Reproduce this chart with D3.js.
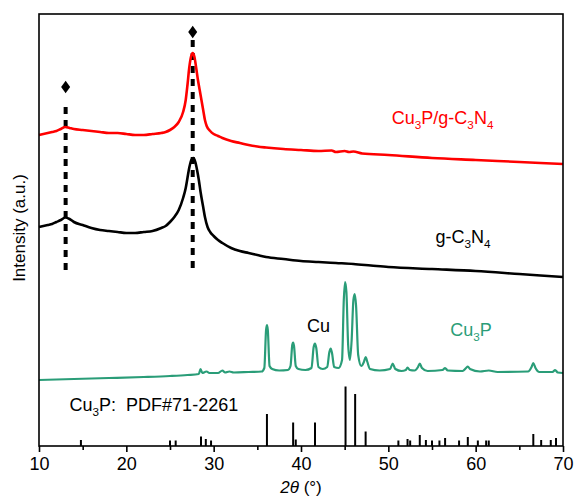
<!DOCTYPE html>
<html><head><meta charset="utf-8">
<script src="https://cdn.jsdelivr.net/npm/d3@7"></script>
<style>
html,body{margin:0;padding:0;background:#fff;}
svg{display:block;font-family:"Liberation Sans",Arial,sans-serif;}
</style></head>
<body><svg id="chart" width="574" height="499"></svg>
<script>
// ---- data (2θ in degrees, intensity in a.u.) ----
const xTicks = [10, 20, 30, 40, 50, 60, 70];
const xMinorTicks = [15, 25, 35, 45, 55, 65];

const compositeTheta = [10,10.5,11,11.5,12,12.5,13,13.5,14,15,16,17,18,19,20,21,22,23,24,24.5,25,25.5,26,26.5,26.8,27,27.2,27.4,27.6,27.8,28,28.2,28.4,28.6,28.8,29,29.2,29.6,30,30.5,31,32,33,34,35,36,38,40,42,43.5,44,45,45.5,46,47,50,55,60,65,70];
const compositeI = [311,312,313,314,315,317,319,318,317,316,315,314,313,313,312,311,311,312,313,314,316,319,324,334,346,361,378,389,393,389,378,366,356,346,336,326,320,315,312,310,308,305,303,301,299.5,298.5,297,296,295,295.5,294,295,294,294.5,292.5,291,288,286,284,282];

const gcnTheta = [10,10.5,11,11.5,12,12.5,13,13.5,14,15,16,17,18,19,20,21,22,23,24,24.5,25,25.5,26,26.5,26.8,27,27.2,27.5,27.7,27.9,28.1,28.3,28.5,28.8,29,29.3,29.6,30,30.5,31,32,33,34,35,36,38,40,42,44,46,48,50,55,60,65,70];
const gcnI = [219,220,221,222,224,226,228.5,227,224,221,218,216,215,214,213,213,214,215,218,220,224,229,236,248,258,268,278,287,288,284,276,266,254,239,229,219,214,210,206,203,198,195,193,191,189,187,185,184,183,182,180.5,179,177,175,172,169];

const cu3pTheta = [10,14,18,22,25,27,28.3,28.5,28.7,29,29.2,29.5,30.5,31,31.3,31.8,32.3,34,35.5,35.8,36,36.1,36.2,36.4,36.7,37.5,38.5,38.8,39,39.1,39.2,39.4,39.7,40.5,41.2,41.45,41.6,41.75,42,42.5,43,43.25,43.4,43.55,43.8,44.3,44.7,44.9,45.05,45.2,45.4,45.6,45.8,46,46.15,46.3,46.55,46.9,47.2,47.4,47.6,47.9,49,50.2,50.5,50.8,51.5,52,52.2,52.45,53,53.4,53.6,53.85,54.5,56.2,56.5,56.8,58.5,58.9,59.1,59.35,60.5,61.5,62.5,66,66.4,66.6,66.85,67.3,68.8,69.1,69.4,70];
const cu3pI = [66,67,68,69,70,71,72,77,73,74,74.5,73,73,75.5,73.5,74.5,73.5,74,74.5,78,116,121,116,80,77,75.5,76,80,101,103.5,100,80,77,76,78,99,102.5,98,79,77,79,94,97.5,93,79,78,86,146,164,154,101,86,106,146,152,141,91,80,84,89,84,77,75.5,77,82.5,77,75,76,78.5,76,75.5,79,82.5,78,75,76,78,75.5,75,78,79.5,77,74.5,75.5,74,74.5,79,83,78,74,74,76,73.5,73];

// reference pattern Cu3P PDF#71-2261: [2θ, relative height]
const pdfTheta = [14.8,25.0,25.65,28.55,29.1,29.7,36.1,39.1,39.4,41.6,45.1,46.2,47.4,51.15,52.2,52.5,53.6,54.3,55.0,55.85,56.5,58.1,59.1,60.25,61.2,61.5,66.6,67.5,68.6,69.2];
const pdfI = [6,5.5,5.5,9.5,7,5.5,32,23.5,6.5,23.5,59.5,52,14.5,5.5,7,5.5,11,6,5.5,5.5,8,5.5,9,5.5,5.5,5.5,12,6,6,8];

// marked g-C3N4 reflections (diamonds)
const markTheta = [13.05, 27.6];
const markTop = [359, 414];
const markDashTop = [339, 406];
const markDashBottom = 173;

// ---- layout ----
const svg = d3.select("#chart");
const mLeft = 39, mRight = 563, mTop = 14, mBottom = 446;
const x = d3.scaleLinear().domain([10, 70]).range([mLeft, mRight]);
const y = d3.scaleLinear().domain([0, 432]).range([mBottom, mTop]);

const zip = (a, b) => a.map((v, i) => [v, b[i]]);
const line = d3.line().x(d => x(d[0])).y(d => y(d[1])).curve(d3.curveMonotoneX);

// dashed marker lines
markTheta.forEach((t, i) => {
  svg.append("line")
    .attr("x1", x(t)).attr("x2", x(t))
    .attr("y1", y(markDashTop[i])).attr("y2", y(markDashBottom))
    .attr("stroke", "#000").attr("stroke-width", 4)
    .attr("stroke-dasharray", "7,6");
  svg.append("path")
    .attr("d", d3.symbol().type(d3.symbolDiamond).size(45)())
    .attr("transform", `translate(${x(t)},${y(markTop[i])}) scale(1.25,1)`)
    .attr("fill", "#000");
});

// curves
svg.append("path").datum(zip(compositeTheta, compositeI))
  .attr("d", line).attr("fill", "none").attr("stroke", "#ff0000").attr("stroke-width", 2.6);
svg.append("path").datum(zip(gcnTheta, gcnI))
  .attr("d", line).attr("fill", "none").attr("stroke", "#000").attr("stroke-width", 2.6);
svg.append("path").datum(zip(cu3pTheta, cu3pI))
  .attr("d", line).attr("fill", "none").attr("stroke", "#2a9d78").attr("stroke-width", 2.2);

// PDF sticks
svg.append("g").selectAll("line").data(zip(pdfTheta, pdfI)).join("line")
  .attr("x1", d => x(d[0])).attr("x2", d => x(d[0]))
  .attr("y1", y(0)).attr("y2", d => y(d[1]))
  .attr("stroke", "#000").attr("stroke-width", 2);

// frame
svg.append("rect").attr("x", mLeft).attr("y", mTop)
  .attr("width", mRight - mLeft).attr("height", mBottom - mTop)
  .attr("fill", "none").attr("stroke", "#000").attr("stroke-width", 1.6);

// x axis
const ax = svg.append("g").attr("transform", `translate(0,${mBottom})`)
  .call(d3.axisBottom(x).tickValues(xTicks).tickSize(6).tickPadding(5).tickFormat(d3.format("d")));
ax.select(".domain").remove();
ax.selectAll("line").attr("stroke-width", 1.6);
ax.selectAll("text").attr("font-size", 18).attr("font-family", "Liberation Sans, Arial, sans-serif").attr("fill", "#000");
const axm = svg.append("g").attr("transform", `translate(0,${mBottom})`)
  .call(d3.axisBottom(x).tickValues(xMinorTicks).tickSize(4).tickFormat(""));
axm.select(".domain").remove();
axm.selectAll("line").attr("stroke-width", 1.6);

// axis titles
const xt = svg.append("text").attr("x", (mLeft + mRight) / 2).attr("y", 493)
  .attr("text-anchor", "middle").attr("font-size", 17);
xt.append("tspan").attr("font-style", "italic").text("2θ");
xt.append("tspan").text(" (°)");

svg.append("text").attr("transform", `translate(25,228) rotate(-90)`)
  .attr("text-anchor", "middle").attr("font-size", 17).text("Intensity (a.u.)");

// labels with subscripts
function label(parts, tx, ty, color, size) {
  const t = svg.append("text").attr("x", tx).attr("y", ty).attr("fill", color).attr("font-size", size);
  let shifted = false;
  parts.forEach(p => {
    const s = t.append("tspan").text(p.t);
    if (p.sub) {
      s.attr("font-size", size * 0.65).attr("dy", size * 0.3);
      shifted = true;
    } else if (shifted) {
      s.attr("dy", -size * 0.3);
      shifted = false;
    }
  });
  return t;
}
label([{t:"Cu"},{t:"3",sub:1},{t:"P/g-C"},{t:"3",sub:1},{t:"N"},{t:"4",sub:1}], x(50.4), 124, "#ff0000", 18);
label([{t:"g-C"},{t:"3",sub:1},{t:"N"},{t:"4",sub:1}], x(55.4), 243, "#000", 18);
label([{t:"Cu"}], x(40.7), 332, "#000", 18);
label([{t:"Cu"},{t:"3",sub:1},{t:"P"}], x(57.1), 336, "#2a9d78", 18);
label([{t:"Cu"},{t:"3",sub:1},{t:"P:\u00A0 PDF#71-2261"}], x(13.5), 411, "#000", 18);
</script></body></html>
